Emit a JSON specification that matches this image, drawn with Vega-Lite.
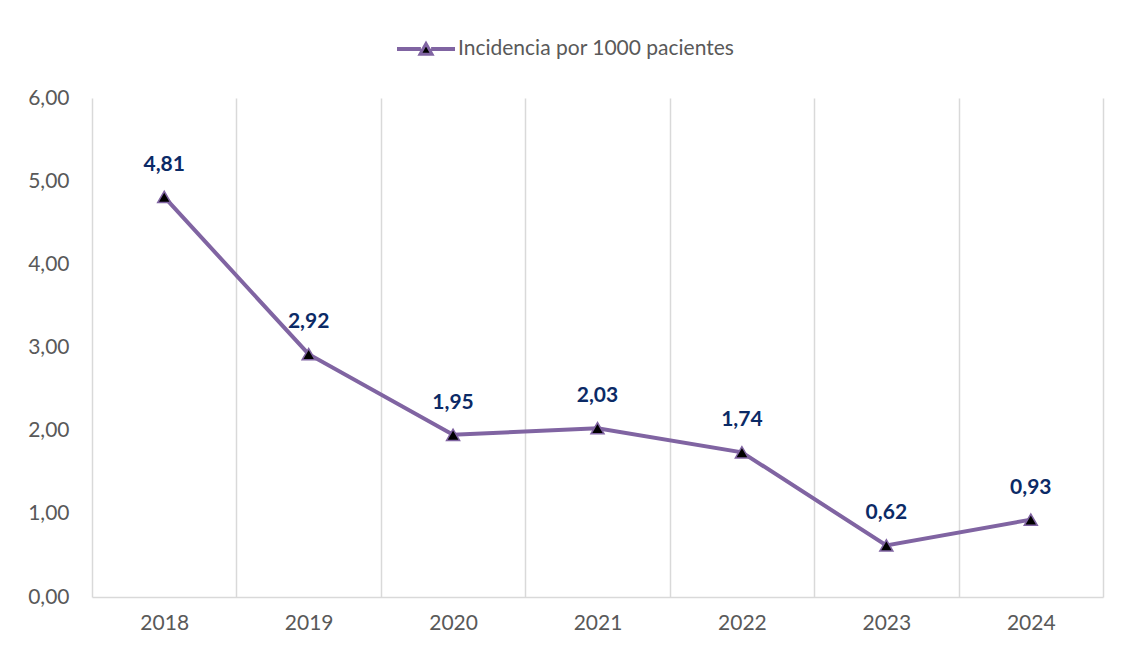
{
  "$schema": "https://vega.github.io/schema/vega-lite/v6.json",
  "width": 1011,
  "height": 499,
  "autosize": {"type": "none"},
  "padding": {"left": 92, "top": 98, "right": 23, "bottom": 51},
  "background": "white",
  "config": {
    "locale": {"number": {"decimal": ",", "thousands": ".", "grouping": [3], "currency": ["", " €"]}},
    "font": "Lato",
    "view": {"stroke": null}
  },
  "data": {
    "values": [
      {"year": "2018", "value": 4.81},
      {"year": "2019", "value": 2.92},
      {"year": "2020", "value": 1.95},
      {"year": "2021", "value": 2.03},
      {"year": "2022", "value": 1.74},
      {"year": "2023", "value": 0.62},
      {"year": "2024", "value": 0.93}
    ]
  },
  "encoding": {
    "x": {
      "field": "year",
      "type": "ordinal",
      "title": null,
      "scale": {"paddingInner": 0, "paddingOuter": 0},
      "axis": {
        "labelAngle": 0,
        "labelFont": "Lato",
        "labelFontSize": 21,
        "labelColor": "#595959",
        "labelPadding": 15,
        "ticks": false,
        "tickBand": "extent",
        "grid": true,
        "gridColor": "#d9d9d9",
        "gridWidth": 1.5,
        "domainColor": "#d9d9d9",
        "domainWidth": 1.5
      }
    },
    "y": {
      "field": "value",
      "type": "quantitative",
      "title": null,
      "scale": {"domain": [0, 6], "nice": false, "zero": true},
      "axis": {
        "values": [0, 1, 2, 3, 4, 5, 6],
        "format": ".2f",
        "grid": false,
        "domain": false,
        "ticks": false,
        "labelFont": "Lato",
        "labelFontSize": 21,
        "labelColor": "#595959",
        "labelPadding": 23
      }
    }
  },
  "layer": [
    {
      "mark": {"type": "line", "strokeWidth": 4},
      "encoding": {
        "color": {
          "datum": "Incidencia por 1000 pacientes",
          "type": "nominal",
          "scale": {"range": ["#8064A2"]},
          "legend": {
            "title": null,
            "orient": "none",
            "legendX": 305,
            "legendY": -78,
            "padding": 0,
            "labelFont": "Lato",
            "labelFontSize": 21,
            "labelColor": "#595959",
            "labelOffset": 3,
            "labelLimit": 500,
            "symbolSize": 3025,
            "symbolType": "M-1,-0.02L-0.24,-0.02L-0.24,0.02L-1,0.02Z M0.24,-0.02L1,-0.02L1,0.02L0.24,0.02Z M-0.22,0.19L0,-0.2L0.22,0.19Z",
            "encode": {
              "symbols": {
                "update": {
                  "fill": {"value": "#000000"},
                  "stroke": {"value": "#8064A2"},
                  "strokeWidth": {"value": 3}
                }
              }
            }
          }
        }
      }
    },
    {
      "mark": {"type": "point", "shape": "triangle-up", "size": 170, "filled": true, "fill": "#000000", "stroke": "#8064A2", "strokeWidth": 1.5, "opacity": 1}
    },
    {
      "mark": {"type": "text", "dy": -32, "fontSize": 21, "fontWeight": "bold", "font": "Lato", "color": "#0B2A66"},
      "encoding": {
        "text": {"field": "value", "type": "quantitative", "format": ".2f"}
      }
    }
  ]
}
